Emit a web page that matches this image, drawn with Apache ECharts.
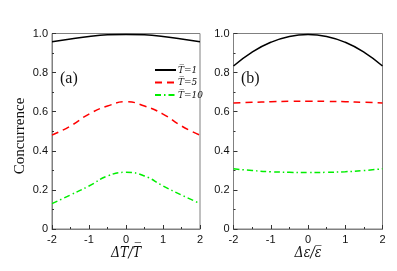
<!DOCTYPE html>
<html><head><meta charset="utf-8">
<script src="https://cdn.jsdelivr.net/npm/echarts@6/dist/echarts.min.js"></script>
<style>html,body{margin:0;padding:0;background:#fff}#c{width:397px;height:271px}</style>
</head><body><div id="c"></div>
<script>
const xs = [-2,-1.5,-1,-0.5,0,0.5,1,1.5,2];
const aT1 = [0.958,0.972,0.985,0.993,0.995,0.993,0.985,0.972,0.958];
const aT5 = [0.48,0.527,0.588,0.629,0.651,0.629,0.588,0.527,0.48];
const aT10 = [0.13,0.174,0.22,0.271,0.29,0.271,0.22,0.174,0.13];
const bT1 = [0.834,0.905,0.955,0.985,0.995,0.985,0.955,0.905,0.834];
const bT5 = [0.645,0.648,0.651,0.653,0.654,0.653,0.651,0.648,0.645];
const bT10 = [0.308,0.299,0.293,0.29,0.289,0.29,0.293,0.299,0.308];
const legendNames = ['T\u0305=1','T\u0305=5','T\u0305=10'];
const xTitles = ['\u0394T/T\u0305','\u0394\u03b5/\u03b5\u0305'];
const yTitle = 'Concurrence';
const panelLabels = ['(a)','(b)'];

const pair = ys => xs.map((x,i)=>[x,ys[i]]);
const axisCol = '#808080';
const sans = 'Liberation Sans, Arial, sans-serif';
const serif = 'Liberation Serif, Times New Roman, serif';
const mathSerif = '"DejaVu Serif Condensed", "DejaVu Serif", serif';
function xAxis(idx){
  return {gridIndex:idx,type:'value',min:-2,max:2,interval:1,
    axisLine:{onZero:false,lineStyle:{color:axisCol}},
    axisTick:{inside:true,length:4,lineStyle:{color:'#333'}},
    minorTick:{show:true,splitNumber:2,length:2,lineStyle:{color:'#333'}},
    splitLine:{show:false},
    axisLabel:{color:'#111',fontSize:11,fontFamily:sans,margin:5}};
}
function yAxis(idx){
  return {gridIndex:idx,type:'value',min:0,max:1,interval:0.2,
    axisLine:{show:true,onZero:false,lineStyle:{color:axisCol}},
    axisTick:{inside:true,length:4,lineStyle:{color:'#333'}},
    minorTick:{show:true,splitNumber:2,length:2,lineStyle:{color:'#333'}},
    splitLine:{show:false},
    axisLabel:{color:'#111',fontSize:11,fontFamily:sans,margin:4,
      formatter:v=>v===0?'0':v.toFixed(1)}};
}
const styles = [
  {color:'#000',type:'solid',width:1.5},
  {color:'#ff0000',type:[7,5],width:1.5},
  {color:'#00ee00',type:[6,3,1.5,3],width:1.5}
];
function ser(name,gi,ys,si){
  return {name:name,type:'line',xAxisIndex:gi,yAxisIndex:gi,data:pair(ys),
    smooth:true,showSymbol:false,symbol:'none',legendIcon:'none',
    lineStyle:styles[si],itemStyle:{color:styles[si].color},z:3};
}
const chart = echarts.init(document.getElementById('c'),null,{renderer:'canvas'});
chart.setOption({
  animation:false,
  grid:[
    {left:52,top:33.5,width:148,height:195.5,show:true,borderColor:axisCol,borderWidth:1},
    {left:233.5,top:33.5,width:149,height:195.5,show:true,borderColor:axisCol,borderWidth:1}
  ],
  xAxis:[xAxis(0),xAxis(1)],
  yAxis:[yAxis(0),yAxis(1)],
  legend:{data:legendNames,orient:'vertical',left:149,top:60,itemWidth:21,itemHeight:10,itemGap:2.5,
    itemStyle:{opacity:0},
    textStyle:{fontFamily:mathSerif,fontStyle:'italic',fontSize:10,color:'#111',padding:[0,0,0,-3]}},
  series:[
    ser(legendNames[0],0,aT1,0),ser(legendNames[1],0,aT5,1),ser(legendNames[2],0,aT10,2),
    ser(legendNames[0],1,bT1,0),ser(legendNames[1],1,bT5,1),ser(legendNames[2],1,bT10,2)
  ],
  graphic:[
    {type:'text',left:60,top:71,style:{text:panelLabels[0],font:'16px '+serif,fill:'#111'}},
    {type:'text',left:241,top:71,style:{text:panelLabels[1],font:'16px '+serif,fill:'#111'}},
    {type:'text',x:126,y:253,style:{text:xTitles[0],font:'italic 14px '+mathSerif,fill:'#111',align:'center',verticalAlign:'middle'}},
    {type:'text',x:308,y:253,style:{text:xTitles[1],font:'italic 14px '+mathSerif,fill:'#111',align:'center',verticalAlign:'middle'}},
    {type:'text',x:20,y:136,rotation:Math.PI/2,style:{text:yTitle,font:'15px '+serif,fill:'#111',align:'center',verticalAlign:'middle'}}
  ]
});
</script></body></html>
